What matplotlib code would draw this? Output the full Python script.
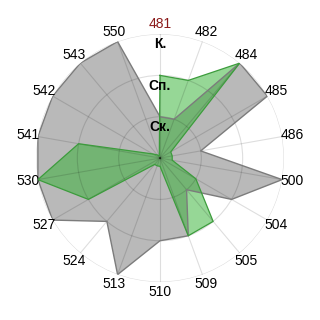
import numpy as np
import matplotlib.pyplot as plt

plt.rcParams['font.family'] = ['Liberation Sans', 'DejaVu Sans']

# categories clockwise from top
categories = ['481', '482', '484', '485', '486', '500', '504', '505', '509',
              '510', '513', '524', '527', '530', '541', '542', '543', '550']
# gray series and green series (0..3 scale)
gray_vals = [1, 1, 3, 3, 1, 3, 2, 1, 2, 2, 3, 2, 3, 3, 3, 3, 3, 3]
green_vals = [2, 2, 3, 0.3, 0.3, 0.3, 1, 2, 2, 0.2, 0.2, 0.2, 2, 3, 2, 0.2, 0.1, 0.05]
ring_levels = [1, 2, 3]
ring_labels = ['Ск.', 'Сп.', 'К.']

n = len(categories)
theta = np.linspace(0, 2 * np.pi, n, endpoint=False)
th = np.append(theta, theta[0])

fig = plt.figure(figsize=(3.2, 3.2), dpi=100)
ax = fig.add_axes([0.1125, 0.1185, 0.775, 0.775], projection='polar')
ax.set_theta_zero_location('N')
ax.set_theta_direction(-1)
ax.set_ylim(0, 3)

g = np.append(gray_vals, gray_vals[0])
ax.fill(th, g, color='#b9b9b9', lw=0, zorder=1)
ax.plot(th, g, color='#7c7c7c', lw=1, zorder=3)

gr = np.append(green_vals, green_vals[0])
ax.fill(th, gr, color='#2fb02f', alpha=0.5, lw=0, zorder=2)
ax.plot(th, gr, color='#3c9c3c', lw=0.9, zorder=4)

ax.set_xticks(theta)
ax.set_xticklabels([])
ax.set_yticks(ring_levels)
ax.set_yticklabels([])
ax.set_axisbelow(False)
ax.grid(True, color='black', alpha=0.13, lw=0.8)
for gl in ax.get_xgridlines() + ax.get_ygridlines():
    gl.set_zorder(2.5)
ax.spines['polar'].set_visible(False)

for t, lab in zip(theta, categories):
    col = '#8b1a1a' if lab == '481' else 'black'
    ax.text(t, 3.25, lab, ha='center', va='center', fontsize=10, color=col,
            clip_on=False)

for lev, lab in zip(ring_levels, ring_labels):
    ax.text(0, lev - 0.25, lab, ha='center', va='center', fontsize=10,
            fontweight='bold', zorder=6)

fig.savefig('out.png', dpi=100)
